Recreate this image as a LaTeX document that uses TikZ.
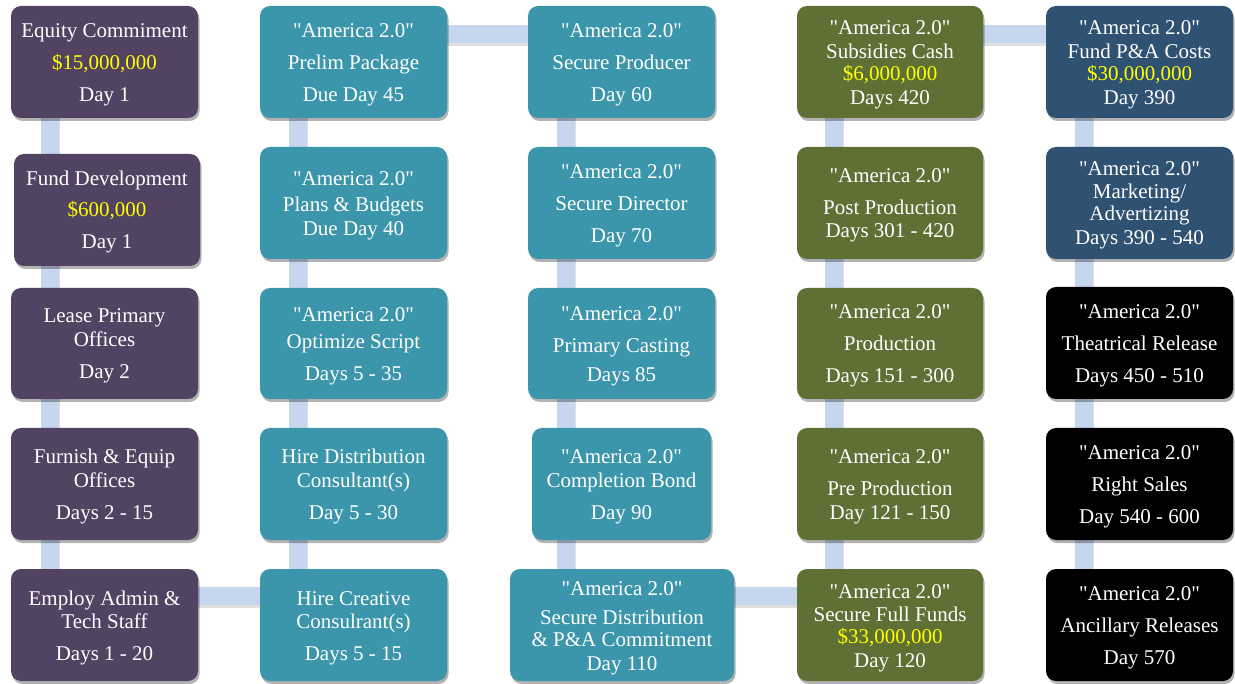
\documentclass[tikz,border=0pt]{standalone}
\usepackage{fontspec}
\setmainfont{Liberation Serif}[Ligatures=TeXOff]
\usetikzlibrary{shadows,calc}
\definecolor{cpur}{HTML}{524363}
\definecolor{cteal}{HTML}{3C96AB}
\definecolor{colive}{HTML}{5F7035}
\definecolor{cnavy}{HTML}{2F5172}
\definecolor{connc}{HTML}{C6D6EE}
\definecolor{cyel}{HTML}{FFFF00}
\pgfdeclarelayer{background}
\pgfsetlayers{background,main}
\newcommand\ZZ{\rule[-6pt]{0pt}{27pt}}
\newcommand\YY[1]{\textcolor{cyel}{#1}}
\begin{document}
\begin{tikzpicture}[x=1pt,y=-1pt,
  box/.style={rounded corners=10pt, minimum height=112pt, minimum width=187pt,
    inner sep=0pt, text=white, align=center, font=\fontsize{21}{32}\selectfont,
    drop shadow={shadow xshift=1.5pt, shadow yshift=-3pt, opacity=0.3, fill=black}},
  conn/.style={line width=18pt, draw=connc, line join=miter},
  connsh/.style={line width=18pt, draw=black, opacity=0.12, line join=miter}]
\useasboundingbox (0,0) rectangle (1235,684);

% column 1
\node[box, fill=cpur] (c1r1) at (104.5,62) {\ZZ Equity Commiment\\\ZZ\YY{\$15,000,000}\\\ZZ Day 1};
\node[box, fill=cpur, minimum width=186pt] (c1r2) at (107,210) {\ZZ Fund Development\\[-1pt]\ZZ\YY{\$600,000}\\\ZZ Day 1};
\node[box, fill=cpur, minimum height=111pt] (c1r3) at (104.5,343.5) {\ZZ Lease Primary\\[-8pt]\ZZ Offices\\\ZZ Day 2};
\node[box, fill=cpur] (c1r4) at (104.5,484) {\ZZ Furnish \& Equip\\[-8pt]\ZZ Offices\\\ZZ Days 2 - 15};
\node[box, fill=cpur] (c1r5) at (104.5,625) {\ZZ Employ Admin \&\\[-9pt]\ZZ Tech Staff\\\ZZ Days 1 - 20};

% column 2
\node[box, fill=cteal] (c2r1) at (353.5,62) {\ZZ "America 2.0"\\\ZZ Prelim Package\\\ZZ Due Day 45};
\node[box, fill=cteal] (c2r2) at (353.5,203) {\ZZ "America 2.0"\\[-6pt]\ZZ Plans \& Budgets\\[-8pt]\ZZ Due Day 40};
\node[box, fill=cteal, minimum height=111pt] (c2r3) at (353.5,343.5) {\ZZ "America 2.0"\\[-5pt]\ZZ Optimize Script\\\ZZ Days 5 - 35};
\node[box, fill=cteal] (c2r4) at (353.5,484) {\ZZ Hire Distribution\\[-8pt]\ZZ Consultant(s)\\\ZZ Day 5 - 30};
\node[box, fill=cteal] (c2r5) at (353.5,625) {\ZZ Hire Creative\\[-9pt]\ZZ Consulrant(s)\\\ZZ Days 5 - 15};

% column 3
\node[box, fill=cteal] (c3r1) at (621.5,62) {\ZZ "America 2.0"\\\ZZ Secure Producer\\\ZZ Day 60};
\node[box, fill=cteal] (c3r2) at (621.5,203) {\ZZ "America 2.0"\\\ZZ Secure Director\\\ZZ Day 70};
\node[box, fill=cteal, minimum height=111pt] (c3r3) at (621.5,343.5) {\ZZ "America 2.0"\\\ZZ Primary Casting\\[-3pt]\ZZ Days 85};
\node[box, fill=cteal, minimum width=179pt] (c3r4) at (621.5,484) {\ZZ "America 2.0"\\[-8pt]\ZZ Completion Bond\\\ZZ Day 90};
\node[box, fill=cteal, minimum width=224pt] (c3r5) at (622,625) {\ZZ "America 2.0"\\[-3pt]\ZZ Secure Distribution\\[-10pt]\ZZ \& P\&A Commitment\\[-8pt]\ZZ Day 110};

% column 4
\node[box, fill=colive, minimum width=186pt] (c4r1) at (890,62) {\ZZ "America 2.0"\\[-8pt]\ZZ Subsidies Cash\\[-10pt]\ZZ\YY{\$6,000,000}\\[-8pt]\ZZ Days 420};
\node[box, fill=colive, minimum width=186pt] (c4r2) at (890,203) {\ZZ "America 2.0"\\\ZZ Post Production\\[-9pt]\ZZ Days 301 - 420};
\node[box, fill=colive, minimum width=186pt, minimum height=111pt] (c4r3) at (890,343.5) {\ZZ "America 2.0"\\\ZZ Production\\\ZZ Days 151 - 300};
\node[box, fill=colive, minimum width=186pt] (c4r4) at (890,484) {\ZZ "America 2.0"\\\ZZ Pre Production\\[-8pt]\ZZ Day 121 - 150};
\node[box, fill=colive, minimum width=186pt] (c4r5) at (890,625) {\ZZ "America 2.0"\\[-9pt]\ZZ Secure Full Funds\\[-10pt]\ZZ\YY{\$33,000,000}\\[-8pt]\ZZ Day 120};

% column 5
\node[box, fill=cnavy] (c5r1) at (1139.5,62) {\ZZ "America 2.0"\\[-8pt]\ZZ Fund P\&A Costs\\[-10pt]\ZZ\YY{\$30,000,000}\\[-8pt]\ZZ Day 390};
\node[box, fill=cnavy] (c5r2) at (1139.5,203) {\ZZ "America 2.0"\\[-9pt]\ZZ Marketing/\\[-10pt]\ZZ Advertizing\\[-8pt]\ZZ Days 390 - 540};
\node[box, fill=black] (c5r3) at (1139.5,343) {\ZZ "America 2.0"\\\ZZ Theatrical Release\\\ZZ Days 450 - 510};
\node[box, fill=black] (c5r4) at (1139.5,484) {\ZZ "America 2.0"\\\ZZ Right Sales\\\ZZ Day 540 - 600};
\node[box, fill=black] (c5r5) at (1139.5,625) {\ZZ "America 2.0"\\\ZZ Ancillary Releases\\\ZZ Day 570};

% connector geometry
\coordinate (tt) at ([yshift=-28pt]c2r1.north);
\coordinate (bb) at ([yshift=-27pt]c2r5.north);
\coordinate (x1) at ([xshift=39pt]c1r1.north west);
\coordinate (x2) at ([xshift=38pt]c2r1.north west);
\coordinate (x3) at ([xshift=38pt]c3r1.north west);
\coordinate (x4) at ([xshift=37pt]c4r1.north west);
\coordinate (x5) at ([xshift=38pt]c5r1.north west);

\begin{pgfonlayer}{background}
\begin{scope}[transform canvas={xshift=1pt,yshift=-3pt}]
\draw[connsh] (x1 |- c1r1.center) -- (x1 |- bb) -- (x2 |- bb) -- (x2 |- tt) -- (x3 |- tt)
  -- (x3 |- bb) -- (x4 |- bb) -- (x4 |- tt) -- (x5 |- tt) -- (x5 |- c5r5.center);
\end{scope}
\draw[conn] (x1 |- c1r1.center) -- (x1 |- bb) -- (x2 |- bb) -- (x2 |- tt) -- (x3 |- tt)
  -- (x3 |- bb) -- (x4 |- bb) -- (x4 |- tt) -- (x5 |- tt) -- (x5 |- c5r5.center);
\end{pgfonlayer}
\end{tikzpicture}
\end{document}
